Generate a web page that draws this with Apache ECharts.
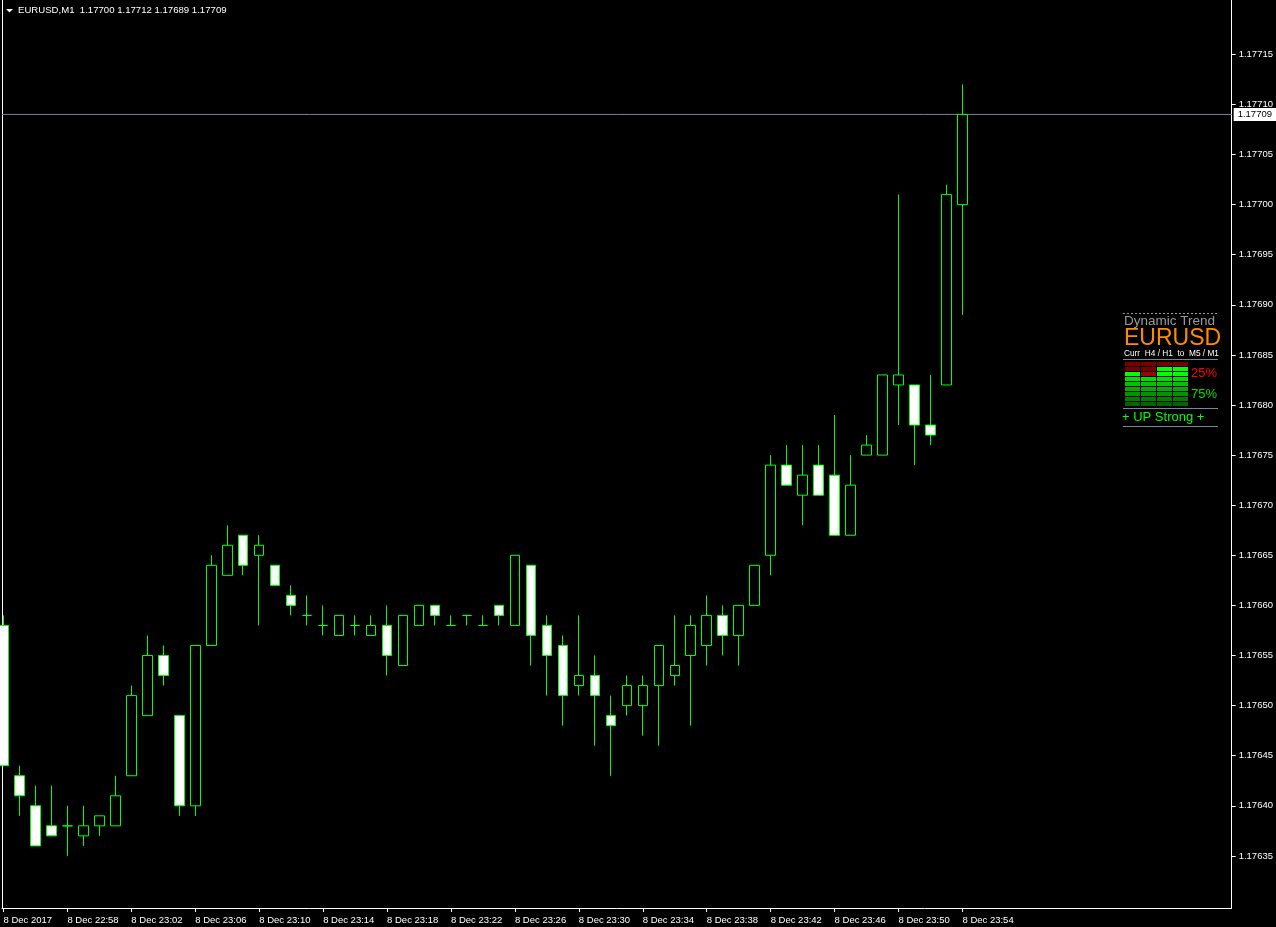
<!DOCTYPE html>
<html><head><meta charset="utf-8">
<script src="https://cdn.jsdelivr.net/npm/echarts@6/dist/echarts.min.js"></script>
<style>html,body{margin:0;padding:0;background:#000;}#c{width:1276px;height:927px;}</style>
</head><body><div id="c"></div>
<script>
// EURUSD M1 candles, 8 Dec 2017 22:54 .. 23:54 (index 0..60)
const openP = [1.17658,1.17643,1.17640,1.17638,1.17638,1.17637,1.17638,1.17638,1.17643,1.17649,
  1.17655,1.17649,1.17640,1.17656,1.17663,1.17667,1.17665,1.17664,1.17661,1.17659,
  1.17658,1.17657,1.17658,1.17657,1.17658,1.17654,1.17658,1.17660,1.17658,1.17659,
  1.17658,1.17660,1.17658,1.17664,1.17658,1.17656,1.17652,1.17653,1.17649,1.17650,
  1.17650,1.17652,1.17653,1.17655,1.17656,1.17659,1.17657,1.17660,1.17665,1.17674,
  1.17671,1.17674,1.17673,1.17667,1.17675,1.17675,1.17682,1.17682,1.17678,1.17682,
  1.17700];
const highP = [1.17659,1.17644,1.17642,1.17642,1.17640,1.17640,1.17639,1.17643,1.17652,1.17657,
  1.17656,1.17649,1.17656,1.17665,1.17668,1.17667,1.17667,1.17664,1.17662,1.17661,
  1.17660,1.17659,1.17659,1.17659,1.17660,1.17659,1.17660,1.17660,1.17659,1.17659,
  1.17659,1.17660,1.17665,1.17664,1.17659,1.17657,1.17659,1.17655,1.17651,1.17653,
  1.17653,1.17656,1.17659,1.17659,1.17661,1.17660,1.17660,1.17664,1.17675,1.17676,
  1.17676,1.17676,1.17679,1.17675,1.17677,1.17683,1.17701,1.17682,1.17683,1.17702,
  1.17712];
const lowP = [1.17644,1.17639,1.17636,1.17637,1.17635,1.17636,1.17637,1.17638,1.17643,1.17649,
  1.17652,1.17639,1.17639,1.17656,1.17663,1.17663,1.17658,1.17662,1.17659,1.17658,
  1.17657,1.17657,1.17657,1.17657,1.17653,1.17654,1.17658,1.17658,1.17658,1.17658,
  1.17658,1.17658,1.17658,1.17654,1.17651,1.17648,1.17651,1.17646,1.17643,1.17649,
  1.17647,1.17646,1.17652,1.17648,1.17654,1.17655,1.17654,1.17660,1.17663,1.17672,
  1.17668,1.17671,1.17667,1.17667,1.17675,1.17675,1.17678,1.17674,1.17676,1.17682,
  1.17689];
const closeP = [1.17644,1.17641,1.17636,1.17637,1.17638,1.17638,1.17639,1.17641,1.17651,1.17655,
  1.17653,1.17640,1.17656,1.17664,1.17666,1.17664,1.17666,1.17662,1.17660,1.17659,
  1.17658,1.17659,1.17658,1.17658,1.17655,1.17659,1.17660,1.17659,1.17658,1.17659,
  1.17658,1.17659,1.17665,1.17657,1.17655,1.17651,1.17653,1.17651,1.17648,1.17652,
  1.17652,1.17656,1.17654,1.17658,1.17659,1.17657,1.17660,1.17664,1.17674,1.17672,
  1.17673,1.17671,1.17667,1.17672,1.17676,1.17683,1.17683,1.17678,1.17677,1.17701,
  1.17709];
const xTickIdx = [0,4,8,12,16,20,24,28,32,36,40,44,48,52,56,60];
const xTickLabels = ['8 Dec 2017','8 Dec 22:58','8 Dec 23:02','8 Dec 23:06','8 Dec 23:10','8 Dec 23:14',
  '8 Dec 23:18','8 Dec 23:22','8 Dec 23:26','8 Dec 23:30','8 Dec 23:34','8 Dec 23:38',
  '8 Dec 23:42','8 Dec 23:46','8 Dec 23:50','8 Dec 23:54'];
const yTicks = [1.17635,1.17640,1.17645,1.17650,1.17655,1.17660,1.17665,1.17670,1.17675,
  1.17680,1.17685,1.17690,1.17695,1.17700,1.17705,1.17710,1.17715];
const symbolTitle = 'EURUSD,M1';
const meterColors = [
  ['#7a0000','#7a0000','#7a0000','#7a0000'],
  ['#7a0000','#7a0000','#00ff00','#00ff00'],
  ['#00ff00','#a00000','#00ff00','#00ff00'],
  ['#00dd00','#00dd00','#00dd00','#00dd00'],
  ['#00c400','#00c400','#00c400','#00c400'],
  ['#00ac00','#00ac00','#00ac00','#00ac00'],
  ['#009400','#009400','#009400','#009400'],
  ['#007c00','#007c00','#007c00','#007c00'],
  ['#006400','#006400','#006400','#006400']
];

const FONT = '"Liberation Sans", Arial, sans-serif';
const n = openP.length;
const candleData = [];
for (let i = 0; i < n; i++) candleData.push([i, openP[i], closeP[i], lowP[i], highP[i]]);
const last = n - 1;
const titleText = symbolTitle + '  ' + [openP[last], highP[last], lowP[last], closeP[last]].map(v => v.toFixed(5)).join(' ');

const graphics = [
  {type:'polygon', shape:{points:[[6,9],[13,9],[9.5,12.5]]}, style:{fill:'#fff'}},
  {type:'text', x:18, y:10.5, style:{text:titleText, fill:'#fff', fontSize:9.6, fontFamily:FONT, verticalAlign:'middle', align:'left'}},
  {type:'line', shape:{x1:1123, y1:313.5, x2:1218, y2:313.5}, style:{stroke:'#9a9a9a', lineWidth:1, lineDash:[2,2]}},
  {type:'text', x:1124, y:321.5, style:{text:'Dynamic Trend', fill:'#9a9a9a', fontSize:13.5, fontFamily:FONT, verticalAlign:'middle'}},
  {type:'text', x:1124, y:339, style:{text:'EURUSD', fill:'#ff8c00', fontSize:23, fontFamily:FONT, verticalAlign:'middle'}},
  {type:'text', x:1124, y:353.5, style:{text:'Curr  H4 / H1  to  M5 / M1', fill:'#fff', fontSize:8.3, fontFamily:FONT, verticalAlign:'middle'}},
  {type:'line', shape:{x1:1123, y1:359.5, x2:1218, y2:359.5}, style:{stroke:'#778899', lineWidth:1}},
  {type:'text', x:1191, y:373.5, style:{text:'25%', fill:'#ff0000', fontSize:13, fontFamily:FONT, verticalAlign:'middle'}},
  {type:'text', x:1191, y:394, style:{text:'75%', fill:'#00e000', fontSize:13, fontFamily:FONT, verticalAlign:'middle'}},
  {type:'line', shape:{x1:1123, y1:408.5, x2:1218, y2:408.5}, style:{stroke:'#778899', lineWidth:1}},
  {type:'text', x:1122, y:417.5, style:{text:'+ UP Strong +', fill:'#00ff00', fontSize:13, fontFamily:FONT, verticalAlign:'middle'}},
  {type:'line', shape:{x1:1123, y1:426.5, x2:1218, y2:426.5}, style:{stroke:'#778899', lineWidth:1}}
];
meterColors.forEach((row, r) => row.forEach((c, k) => {
  graphics.push({type:'rect', shape:{x:1125 + 16*k, y:362 + 5*r, width:15, height:4}, style:{fill:c}});
}));

const yMin = 1.176298, yMax = 1.1772042;
const xMin = -0.09375, xMax = 76.84375;
const chart = echarts.init(document.getElementById('c'), null, {renderer:'canvas'});
chart.setOption({
  backgroundColor:'#000',
  animation:false,
  grid:{left:2, right:43, top:0, bottom:19, containLabel:false},
  xAxis:{
    type:'value', min:xMin, max:xMax,
    axisLine:{show:true, onZero:false, lineStyle:{color:'#fff', width:1}},
    splitLine:{show:false},
    axisTick:{show:true, customValues:xTickIdx, length:4, lineStyle:{color:'#fff'}},
    axisLabel:{show:true, customValues:xTickIdx, color:'#fff', fontSize:9.5, fontFamily:FONT, align:'left', margin:7,
      formatter:(v)=>{const k = xTickIdx.indexOf(Math.round(v)); return k >= 0 ? xTickLabels[k] : '';}}
  },
  yAxis:[{
    type:'value', position:'right', min:yMin, max:yMax,
    axisLine:{show:true, onZero:false, lineStyle:{color:'#fff', width:1}},
    splitLine:{show:false},
    axisTick:{show:true, customValues:yTicks, length:4, lineStyle:{color:'#fff'}},
    axisLabel:{show:true, customValues:yTicks, color:'#fff', fontSize:9.5, fontFamily:FONT, align:'left', margin:7,
      formatter:(v)=>v.toFixed(5)}
  },{
    type:'value', position:'left', min:yMin, max:yMax,
    axisLine:{show:true, onZero:false, lineStyle:{color:'#fff', width:1}},
    splitLine:{show:false}, axisTick:{show:false}, axisLabel:{show:false}
  }],
  series:[{
    type:'candlestick',
    data:candleData,
    encode:{x:0, y:[1,2,3,4]},
    barWidth:10,
    itemStyle:{color:'#000', color0:'#fff', borderColor:'#00ff00', borderColor0:'#00ff00', borderColorDoji:'#00ff00', borderWidth:1},
    emphasis:{disabled:true}
  },{
    type:'line',
    data:[[xMin, closeP[last]], [xMax, closeP[last]]],
    showSymbol:false, symbol:'none', silent:true, z:1,
    lineStyle:{color:'#778899', width:1},
    endLabel:{show:true, distance:2, formatter:(p)=>p.value[1].toFixed(5),
      backgroundColor:'#fff', color:'#000', fontSize:9.5, fontFamily:FONT, padding:[2,6,1,4]},
    emphasis:{disabled:true}
  }],
  graphic:{elements:graphics}
});
</script></body></html>
